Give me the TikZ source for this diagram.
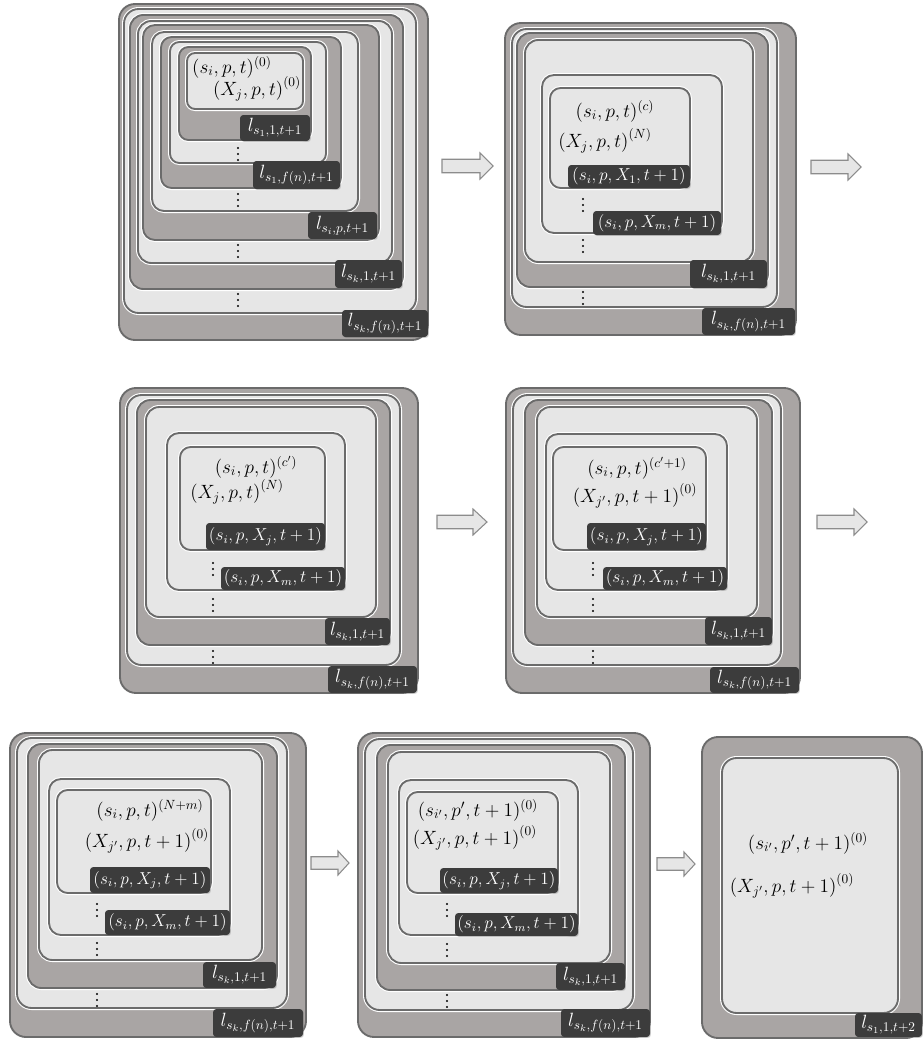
\documentclass[tikz,border=0pt]{standalone}
\usepackage{graphicx}
\usetikzlibrary{shadows}
\definecolor{dk}{HTML}{A9A5A4}
\definecolor{lt}{HTML}{E6E6E6}
\definecolor{bd}{HTML}{6B6B6B}
\definecolor{lb}{HTML}{3C3C3C}
\definecolor{ab}{HTML}{8C8C8C}
\tikzset{
  lyr/.style={draw=bd, line width=1.4pt, rounded corners=#1,
    preaction={draw=white, line width=3pt}},
  lyr/.default=8pt,
  labbox/.style={fill=lb, text=white, rounded corners=2.5pt, inner sep=0pt,
    font=\large, drop shadow={shadow xshift=0.7pt, shadow yshift=-0.7pt, opacity=0.35}},
  lbig/.style={font=\Large},
  txt/.style={font=\Large, inner sep=0pt},
  barrow/.style={draw=ab, fill=lt, line width=0.8pt, line join=miter}
}
% layer: [radius]{x1}{y1}{x2}{y2}{fill}
\newcommand\lay[6][8pt]{\draw[lyr=#1, fill=#6] (#2,#3) rectangle (#4,#5);}
% l-label: {name}{x1}{y1}{x2}{y2}{math}
\newcommand\lab[6]{\node[labbox,lbig, minimum width={(#4-#2)*0.75pt}, minimum height={(#5-#3)*0.75pt}] (#1) at ({(#2+#4)/2},{(#3+#5)/2}) {$#6$};}
% tuple label: {name}{x1}{y1}{x2}{y2}{math}
\newcommand\labp[6]{\node[labbox, minimum width={(#4-#2)*0.75pt}, minimum height={(#5-#3)*0.75pt}] (#1) at ({(#2+#4)/2},{(#3+#5)/2}) {\scalebox{1.08}{$#6$}};}
% vertical dots
\newcommand\vd[2]{\foreach \k in {-6,0,6} \fill ({#1},{#2+\k}) circle[radius=0.9pt];}
% block arrow: {tail}{base}{tip}{cy}{halfhead}
\newcommand\barr[5]{\draw[barrow] (#1,{#4-#5*0.52}) -- (#2,{#4-#5*0.52}) -- (#2,{#4-#5}) -- (#3,#4) -- (#2,{#4+#5}) -- (#2,{#4+#5*0.52}) -- (#1,{#4+#5*0.52}) -- cycle;}
\begin{document}
\begin{tikzpicture}[x=0.75pt, y=-0.75pt]
\useasboundingbox (0,0) rectangle (923,1042);

% ================= Panel 1 =================
\lay[12pt]{119}{4}{428}{340}{dk}
\lay[11pt]{124}{9}{416}{313}{lt}
\lay[10pt]{130}{15}{403}{289}{dk}
\lay[10pt]{138}{21}{392}{263}{lt}
\lay[9pt]{143}{25}{379}{240}{dk}
\lay[9pt]{152}{32}{358}{211}{lt}
\lay[8pt]{161}{37}{341}{188}{dk}
\lay[7pt]{170}{42}{326}{163}{lt}
\lay[7pt]{179}{47}{311}{140}{dk}
\lay[6pt]{187}{53}{303}{109}{lt}
\node[txt] (p1t1) at (232,67) {$(s_i,p,t)^{(0)}$};
\node[txt] (p1t2) at (257,89) {$\bigl(X_j,p,t\bigr)^{(0)}$};
\lab{p1a}{240}{115}{310}{141}{l_{s_1,1,t+1}}
\vd{238}{154}
\lab{p1b}{253}{161}{340}{189}{l_{s_1,f(n),t+1}}
\vd{238}{200}
\lab{p1c}{308}{212}{377}{239}{l_{s_i,p,t+1}}
\vd{238}{251}
\lab{p1d}{335}{260}{402}{288}{l_{s_k,1,t+1}}
\vd{238}{300}
\lab{p1e}{342}{310}{428}{337}{l_{s_k,f(n),t+1}}

\barr{442}{480}{493}{166}{13}

% ================= Panel 2 =================
\lay[12pt]{505}{23}{796}{335}{dk}
\lay[11pt]{512}{29}{777}{307}{lt}
\lay[10pt]{517}{33}{768}{287}{dk}
\lay[10pt]{525}{40}{753}{262}{lt}
\lay[9pt]{542}{75}{722}{233}{lt}
\lay[8pt]{550}{88}{690}{188}{lt}
\node[txt] (p2t1) at (615,111) {$(s_i,p,t)^{(c)}$};
\node[txt] (p2t2) at (605,141) {$\bigl(X_j,p,t\bigr)^{(N)}$};
\labp{p2a}{568}{165}{690}{188}{(s_i,p,X_1,t+1)}
\vd{583}{205}
\labp{p2b}{593}{211}{721}{235}{(s_i,p,X_m,t+1)}
\vd{583}{246}
\lab{p2c}{690}{260}{767}{288}{l_{s_k,1,t+1}}
\vd{583}{298}
\lab{p2d}{702}{308}{795}{335}{l_{s_k,f(n),t+1}}

\barr{811}{848}{861}{167}{13}

% ================= Panel 3 =================
\lay[12pt]{120}{388}{418}{693}{dk}
\lay[11pt]{127}{395}{400}{665}{lt}
\lay[10pt]{137}{400}{390}{645}{dk}
\lay[10pt]{146}{407}{376}{617}{lt}
\lay[9pt]{167}{433}{345}{590}{lt}
\lay[8pt]{180}{447}{325}{550}{lt}
\node[txt] (p3t1) at (256,467) {$(s_i,p,t)^{(c')}$};
\node[txt] (p3t2) at (237,492) {$\bigl(X_j,p,t\bigr)^{(N)}$};
\labp{p3a}{206}{523}{325}{550}{(s_i,p,X_j,t+1)}
\vd{213}{569}
\labp{p3b}{221}{567}{345}{590}{(s_i,p,X_m,t+1)}
\vd{213}{605}
\lab{p3c}{325}{618}{390}{645}{l_{s_k,1,t+1}}
\vd{213}{657}
\lab{p3d}{328}{666}{417}{693}{l_{s_k,f(n),t+1}}

\barr{437}{473}{487}{522}{13}

% ================= Panel 4 =================
\lay[12pt]{506}{388}{800}{693}{dk}
\lay[11pt]{513}{395}{781}{665}{lt}
\lay[10pt]{525}{400}{772}{645}{dk}
\lay[10pt]{537}{407}{757}{617}{lt}
\lay[9pt]{546}{434}{727}{590}{lt}
\lay[8pt]{553}{447}{706}{550}{lt}
\node[txt] (p4t1) at (637,468) {$(s_i,p,t)^{(c'+1)}$};
\node[txt] (p4t2) at (635,496) {$\bigl(X_{j'},p,t+1\bigr)^{(0)}$};
\labp{p4a}{587}{523}{706}{550}{(s_i,p,X_j,t+1)}
\vd{593}{569}
\labp{p4b}{603}{567}{727}{590}{(s_i,p,X_m,t+1)}
\vd{593}{605}
\lab{p4c}{705}{617}{772}{645}{l_{s_k,1,t+1}}
\vd{593}{657}
\lab{p4d}{710}{667}{799}{693}{l_{s_k,f(n),t+1}}

\barr{817}{854}{867}{522}{13}

% ================= Panel 5 =================
\lay[12pt]{10}{733}{306}{1037}{dk}
\lay[11pt]{17}{738}{287}{1008}{lt}
\lay[10pt]{28}{744}{277}{988}{dk}
\lay[10pt]{39}{750}{262}{960}{lt}
\lay[9pt]{49}{779}{230}{935}{lt}
\lay[8pt]{57}{790}{211}{893}{lt}
\node[txt] (p5t1) at (150,810) {$(s_i,p,t)^{(N+m)}$};
\node[txt] (p5t2) at (147,841) {$\bigl(X_{j'},p,t+1\bigr)^{(0)}$};
\labp{p5a}{90}{867}{210}{893}{(s_i,p,X_j,t+1)}
\vd{97}{910}
\labp{p5b}{105}{910}{230}{935}{(s_i,p,X_m,t+1)}
\vd{97}{949}
\lab{p5c}{203}{962}{276}{988}{l_{s_k,1,t+1}}
\vd{97}{1000}
\lab{p5d}{213}{1009}{303}{1037}{l_{s_k,f(n),t+1}}

\barr{311}{338}{349}{863}{12}

% ================= Panel 6 =================
\lay[12pt]{358}{733}{650}{1037}{dk}
\lay[11pt]{365}{739}{633}{1010}{lt}
\lay[10pt]{377}{745}{625}{990}{dk}
\lay[10pt]{388}{752}{610}{963}{lt}
\lay[9pt]{399}{780}{578}{935}{lt}
\lay[8pt]{407}{792}{558}{893}{lt}
\node[txt] (p6t1) at (478,810) {$(s_{i'},p',t+1)^{(0)}$};
\node[txt] (p6t2) at (475,838) {$\bigl(X_{j'},p,t+1\bigr)^{(0)}$};
\labp{p6a}{440}{868}{558}{893}{(s_i,p,X_j,t+1)}
\vd{447}{910}
\labp{p6b}{455}{913}{578}{936}{(s_i,p,X_m,t+1)}
\vd{447}{950}
\lab{p6c}{556}{963}{625}{990}{l_{s_k,1,t+1}}
\vd{447}{1001}
\lab{p6d}{561}{1009}{650}{1037}{l_{s_k,f(n),t+1}}

\barr{657}{684}{695}{864}{12}

% ================= Panel 7 =================
\lay[12pt]{702}{737}{922}{1038}{dk}
\lay[11pt]{722}{758}{898}{1013}{lt}
\node[txt] (p7t1) at (808,843) {$(s_{i'},p',t+1)^{(0)}$};
\node[txt] (p7t2) at (792,886) {$\bigl(X_{j'},p,t+1\bigr)^{(0)}$};
\lab{p7a}{855}{1013}{922}{1037}{l_{s_1,1,t+2}}
\end{tikzpicture}
\end{document}
